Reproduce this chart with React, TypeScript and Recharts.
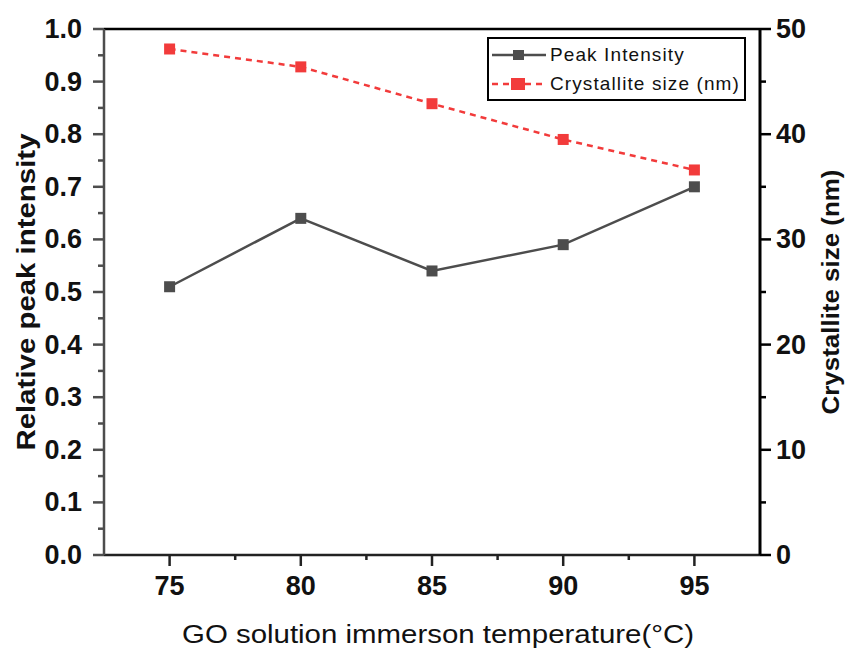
import {
  ComposedChart,
  Line,
  XAxis,
  YAxis,
  Legend,
  ReferenceLine,
  Label,
} from 'recharts';

/* -------------------------------------------------------------------------- */
/*  Data                                                                      */
/* -------------------------------------------------------------------------- */

const temperatures = [75, 80, 85, 90, 95];
const peakIntensity = [0.51, 0.64, 0.54, 0.59, 0.7];
const crystalliteSize = [48.1, 46.4, 42.9, 39.5, 36.6];

const xTicks = [75, 77.5, 80, 82.5, 85, 87.5, 90, 92.5, 95];
const leftTicks = [0, 0.05, 0.1, 0.15, 0.2, 0.25, 0.3, 0.35, 0.4, 0.45, 0.5, 0.55, 0.6, 0.65, 0.7, 0.75, 0.8, 0.85, 0.9, 0.95, 1.0];
const rightTicks = [0, 5, 10, 15, 20, 25, 30, 35, 40, 45, 50];

const data = temperatures.map((t, i) => ({
  temp: t,
  intensity: peakIntensity[i],
  size: crystalliteSize[i],
}));

const FONT = "'Liberation Sans', Arial, sans-serif";
const GRAY = '#4d4d4d';
const RED = '#f23b3b';

/* -------------------------------------------------------------------------- */
/*  Ticks                                                                     */
/* -------------------------------------------------------------------------- */

function LeftTick({ x, y, payload }: any) {
  const v = payload.value;
  const major = Math.round(v * 100) % 10 === 0;
  return (
    <g>
      <line x1={x - (major ? 11 : 6)} x2={x} y1={y} y2={y} stroke={GRAY} strokeWidth={2.5} />
      {major && (
        <text x={x - 22} y={y} textAnchor="end" dominantBaseline="central" fontFamily={FONT} fontWeight="bold" fontSize={27} fill="#111">
          {v.toFixed(1)}
        </text>
      )}
    </g>
  );
}

function RightTick({ x, y, payload }: any) {
  const v = payload.value;
  const major = v % 10 === 0;
  return (
    <g>
      <line x1={x} x2={x + (major ? 11 : 6)} y1={y} y2={y} stroke="#000" strokeWidth={2.5} />
      {major && (
        <text x={x + 16} y={y} textAnchor="start" dominantBaseline="central" fontFamily={FONT} fontWeight="bold" fontSize={27} fill="#111">
          {v}
        </text>
      )}
    </g>
  );
}

function BottomTick({ x, y, payload }: any) {
  const v = payload.value;
  const major = v % 5 === 0;
  return (
    <g>
      <line x1={x} x2={x} y1={y} y2={y + (major ? 11 : 5)} stroke="#222" strokeWidth={2.5} />
      {major && (
        <text x={x} y={y + 31} textAnchor="middle" dominantBaseline="central" fontFamily={FONT} fontWeight="bold" fontSize={27} fill="#111">
          {v}
        </text>
      )}
    </g>
  );
}

/* -------------------------------------------------------------------------- */
/*  Markers / legend                                                          */
/* -------------------------------------------------------------------------- */

function SquareDot({ cx, cy, fill }: any) {
  if (cx == null || cy == null) return null;
  return <rect x={cx - 5.5} y={cy - 5.5} width={11} height={11} fill={fill} />;
}

function ChartLegend() {
  const row = (color: string, dashed: boolean, label: string) => (
    <div style={{ display: 'flex', alignItems: 'center', height: 29 }}>
      <svg width={58} height={14}>
        <line x1={2} x2={56} y1={7} y2={7} stroke={color} strokeWidth={2.5} strokeDasharray={dashed ? '6 5' : undefined} />
        <rect x={dashed ? 21 : 23} y={dashed ? 1 : 2} width={dashed ? 14 : 11} height={dashed ? 12 : 10} fill={color} />
      </svg>
      <span style={{ fontFamily: FONT, fontSize: 19, color: '#111', letterSpacing: 1.1, marginLeft: 2 }}>{label}</span>
    </div>
  );
  return (
    <div style={{ border: '2.5px solid #000', padding: '1px 4px 1px 1px', background: '#fff' }}>
      {row(GRAY, false, 'Peak Intensity')}
      {row(RED, true, 'Crystallite size (nm)')}
    </div>
  );
}

function VTitle({ viewBox, text, dx, size, length }: any) {
  const cx = viewBox.x + dx;
  const cy = viewBox.y + viewBox.height / 2;
  return (
    <text
      transform={`translate(${cx},${cy}) rotate(-90)`}
      textAnchor="middle"
      dominantBaseline="central"
      fontFamily={FONT}
      fontWeight="bold"
      fontSize={size}
      textLength={length}
      lengthAdjust="spacingAndGlyphs"
      fill="#111"
    >
      {text}
    </text>
  );
}

/* -------------------------------------------------------------------------- */
/*  Component                                                                 */
/* -------------------------------------------------------------------------- */

export default function App() {
  return (
    <div style={{ position: 'absolute', left: 0, top: 0, background: '#fff' }}>
      <ComposedChart width={845} height={650} data={data} margin={{ top: 29, right: 0, bottom: 0, left: 0 }}>
        <XAxis
          dataKey="temp"
          type="number"
          domain={[72.5, 97.5]}
          ticks={xTicks}
          interval={0}
          height={95}
          tickSize={0}
          tickMargin={0}
          tickLine={false}
          tick={<BottomTick />}
          axisLine={{ stroke: '#222', strokeWidth: 2.5 }}
        >
          <Label
            content={({ viewBox }: any) => (
              <text
                x={viewBox.x + viewBox.width / 2 + 6}
                y={viewBox.y + 79}
                textAnchor="middle"
                dominantBaseline="central"
                fontFamily={FONT}
                fontSize={25}
                textLength={512}
                lengthAdjust="spacingAndGlyphs"
                fill="#111"
              >
                GO solution immerson temperature(°C)
              </text>
            )}
          />
        </XAxis>
        <YAxis
          yAxisId="left"
          domain={[0, 1]}
          ticks={leftTicks}
          interval={0}
          width={104}
          tickSize={0}
          tickMargin={0}
          tickLine={false}
          tick={<LeftTick />}
          axisLine={{ stroke: GRAY, strokeWidth: 2.5 }}
        >
          <Label content={(p: any) => <VTitle viewBox={p.viewBox} text="Relative peak intensity" dx={26} size={25} length={317} />} />
        </YAxis>
        <YAxis
          yAxisId="right"
          orientation="right"
          domain={[0, 50]}
          ticks={rightTicks}
          interval={0}
          width={85}
          tickSize={0}
          tickMargin={0}
          tickLine={false}
          tick={<RightTick />}
          axisLine={{ stroke: '#000', strokeWidth: 3 }}
        >
          <Label content={(p: any) => <VTitle viewBox={p.viewBox} text="Crystallite size (nm)" dx={70} size={24} length={245} />} />
        </YAxis>
        <ReferenceLine yAxisId="left" y={1} stroke="#000" strokeWidth={2.5} ifOverflow="visible" />
        <Line
          yAxisId="left"
          dataKey="intensity"
          stroke={GRAY}
          strokeWidth={2.5}
          dot={<SquareDot fill={GRAY} />}
          activeDot={false}
          isAnimationActive={false}
        />
        <Line
          yAxisId="right"
          dataKey="size"
          stroke={RED}
          strokeWidth={2.5}
          strokeDasharray="6 5"
          dot={<SquareDot fill={RED} />}
          activeDot={false}
          isAnimationActive={false}
        />
        <Legend
          layout="horizontal"
          verticalAlign="middle"
          content={<ChartLegend />}
          wrapperStyle={{ position: 'absolute', left: 487, top: 37, width: 'auto' }}
        />
      </ComposedChart>
    </div>
  );
}
